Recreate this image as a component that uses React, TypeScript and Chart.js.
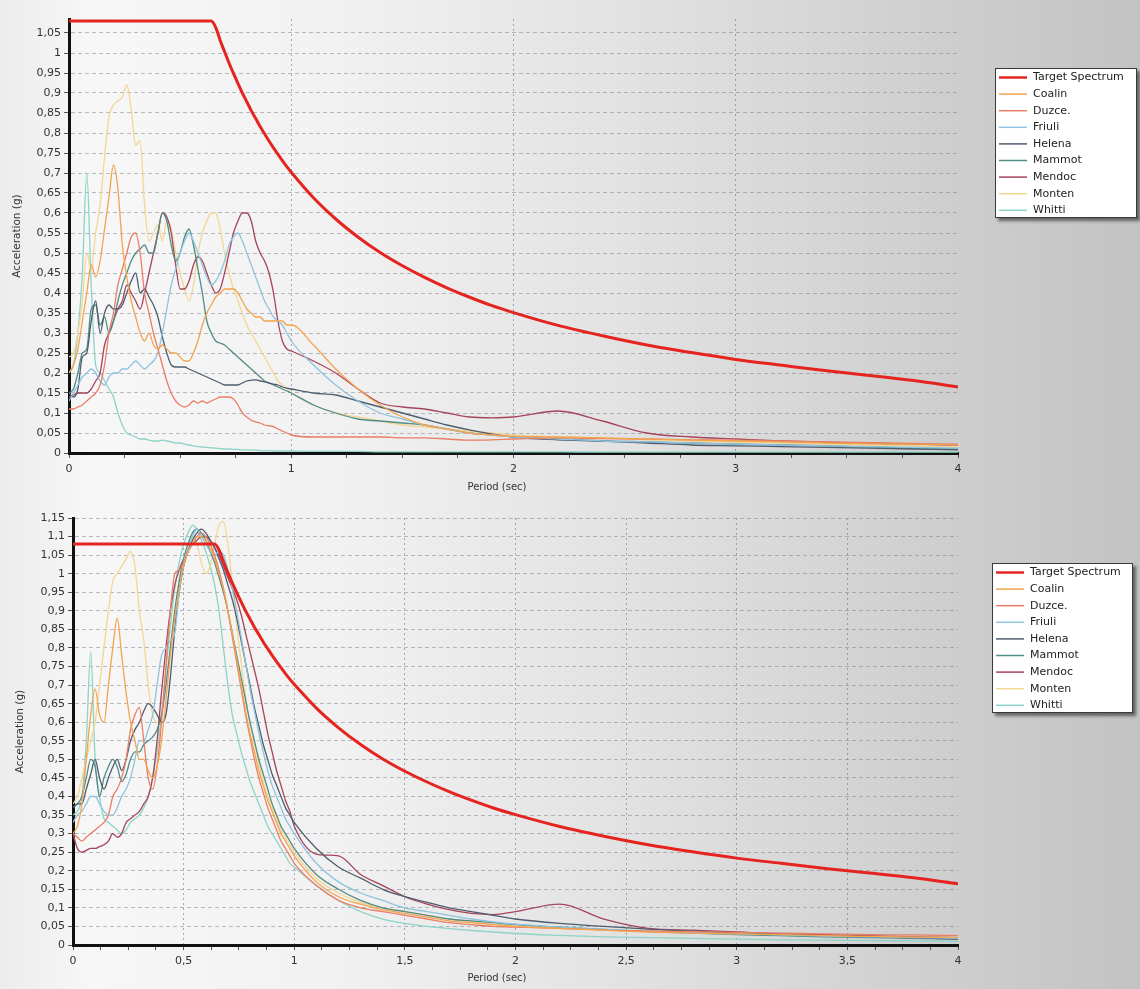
import React, { useEffect, useRef } from 'react';
import { Chart, registerables } from 'chart.js';

Chart.register(...registerables);

// ---- Data (period grid shared by both panels) ----
const periods = [
  0, 0.02, 0.04, 0.06, 0.08, 0.1, 0.12, 0.14, 0.16, 0.18,
  0.2, 0.22, 0.24, 0.26, 0.28, 0.3, 0.32, 0.34, 0.36, 0.38,
  0.4, 0.42, 0.44, 0.46, 0.48, 0.5, 0.52, 0.54, 0.56, 0.58,
  0.6, 0.62, 0.64, 0.66, 0.68, 0.7, 0.72, 0.74, 0.76, 0.78,
  0.8, 0.82, 0.84, 0.86, 0.88, 0.9, 0.92, 0.94, 0.96, 0.98,
  1.0, 1.1, 1.2, 1.3, 1.4, 1.5, 1.6, 1.7, 1.8, 1.9,
  2.0, 2.2, 2.4, 2.6, 2.8, 3.0, 3.2, 3.4, 3.6, 3.8,
  4.0,
];

const targetSpectrum = [
  1.08, 1.08, 1.08, 1.08, 1.08, 1.08, 1.08, 1.08, 1.08, 1.08,
  1.08, 1.08, 1.08, 1.08, 1.08, 1.08, 1.08, 1.08, 1.08, 1.08,
  1.08, 1.08, 1.08, 1.08, 1.08, 1.08, 1.08, 1.08, 1.08, 1.08,
  1.08, 1.08, 1.08, 1.064, 1.032, 1.003, 0.975, 0.949, 0.924, 0.9,
  0.878, 0.856, 0.836, 0.816, 0.798, 0.78, 0.763, 0.747, 0.731, 0.716,
  0.702, 0.638, 0.585, 0.54, 0.501, 0.468, 0.439, 0.413, 0.39, 0.369,
  0.351, 0.319, 0.293, 0.27, 0.251, 0.234, 0.22, 0.206, 0.194, 0.181,
  0.165,
];

const recordNames = ['Coalin', 'Duzce.', 'Friuli', 'Helena', 'Mammot', 'Mendoc', 'Monten', 'Whitti'];
const recordColors = ['#f2a44e', '#e97d66', '#8fc3e0', '#4e5c6e', '#4f8c86', '#a5445a', '#f3d693', '#8dd3c7'];
const targetColor = '#e52420';

// ---- Top panel: unscaled records ----
const topCoalin = [
  0.2, 0.22, 0.26, 0.33, 0.4, 0.47, 0.44, 0.48, 0.56, 0.64,
  0.72, 0.66, 0.52, 0.44, 0.38, 0.34, 0.3, 0.28, 0.3, 0.27,
  0.26, 0.27, 0.26, 0.25, 0.25, 0.24, 0.23, 0.23, 0.25, 0.28,
  0.32, 0.35, 0.37, 0.39, 0.4, 0.41, 0.41, 0.41, 0.4, 0.38,
  0.36, 0.35, 0.34, 0.34, 0.33, 0.33, 0.33, 0.33, 0.33, 0.32,
  0.32, 0.27, 0.21, 0.16, 0.12, 0.09, 0.07, 0.06, 0.05, 0.045,
  0.042, 0.04, 0.038, 0.035, 0.032, 0.03, 0.028, 0.025, 0.023, 0.022,
  0.02,
];
const topDuzce = [
  0.11, 0.11, 0.115, 0.12, 0.13, 0.14, 0.15, 0.17, 0.22, 0.3,
  0.35, 0.42, 0.46, 0.5, 0.54, 0.55, 0.5, 0.4, 0.35, 0.3,
  0.26, 0.22, 0.18, 0.15, 0.13, 0.12, 0.115, 0.12, 0.13, 0.125,
  0.13, 0.125, 0.13, 0.135, 0.14, 0.14, 0.14, 0.135, 0.12, 0.1,
  0.09, 0.082, 0.078, 0.075, 0.07, 0.068, 0.066, 0.06, 0.055, 0.05,
  0.045, 0.04, 0.04, 0.04, 0.04, 0.038, 0.038, 0.035, 0.032, 0.033,
  0.035, 0.038, 0.036, 0.035, 0.033, 0.032, 0.03, 0.028, 0.026, 0.024,
  0.022,
];
const topFriuli = [
  0.13, 0.15, 0.17, 0.19, 0.2, 0.21, 0.2, 0.18, 0.17, 0.19,
  0.2, 0.2, 0.21, 0.21, 0.22, 0.23, 0.22, 0.21, 0.22, 0.23,
  0.25, 0.3, 0.36, 0.42, 0.46, 0.5, 0.53, 0.55, 0.53, 0.5,
  0.47, 0.44, 0.42, 0.43, 0.45, 0.48, 0.52, 0.54, 0.55, 0.53,
  0.5, 0.47, 0.44, 0.41, 0.38, 0.36, 0.34, 0.33, 0.32, 0.3,
  0.28, 0.22, 0.17, 0.13, 0.1, 0.085, 0.07, 0.06, 0.05, 0.045,
  0.04, 0.035, 0.03, 0.028, 0.025, 0.022, 0.02, 0.018, 0.016, 0.014,
  0.012,
];
const topHelena = [
  0.15, 0.14, 0.16, 0.24, 0.25, 0.33, 0.38, 0.3, 0.35, 0.37,
  0.36, 0.36, 0.37, 0.4, 0.43, 0.45, 0.4, 0.41, 0.39, 0.37,
  0.34, 0.29, 0.25, 0.22, 0.215, 0.215, 0.215, 0.21, 0.205, 0.2,
  0.195, 0.19, 0.185, 0.18, 0.175, 0.17, 0.17, 0.17, 0.17, 0.175,
  0.18, 0.182, 0.183, 0.18, 0.178, 0.175, 0.172, 0.17, 0.165, 0.162,
  0.16, 0.15, 0.145, 0.13, 0.115, 0.1, 0.085, 0.07, 0.058, 0.048,
  0.04, 0.033, 0.03, 0.025, 0.02, 0.018, 0.016, 0.014, 0.012, 0.01,
  0.008,
];
const topMammot = [
  0.15, 0.16, 0.2, 0.25, 0.26, 0.36, 0.37, 0.32, 0.34, 0.3,
  0.33, 0.38, 0.42, 0.45, 0.48, 0.5, 0.51, 0.52, 0.5, 0.5,
  0.55, 0.6, 0.58, 0.52, 0.48, 0.5, 0.54, 0.56, 0.52, 0.46,
  0.4, 0.33, 0.3, 0.28, 0.275, 0.27, 0.26, 0.25, 0.24, 0.23,
  0.22, 0.21, 0.2, 0.19, 0.18, 0.175, 0.17, 0.165, 0.16, 0.155,
  0.15, 0.12, 0.1, 0.085, 0.08, 0.075, 0.07, 0.06, 0.05, 0.045,
  0.04, 0.035, 0.03, 0.028, 0.025, 0.022, 0.02, 0.018, 0.015, 0.012,
  0.01,
];
const topMendoc = [
  0.14, 0.145, 0.15, 0.15, 0.15, 0.16, 0.18, 0.2, 0.27, 0.3,
  0.33, 0.36, 0.38, 0.42, 0.4, 0.38, 0.36, 0.4, 0.45, 0.5,
  0.55, 0.6, 0.59, 0.55, 0.47, 0.41, 0.41, 0.43, 0.47, 0.49,
  0.48, 0.45, 0.42, 0.4, 0.41, 0.45, 0.5, 0.55, 0.58, 0.6,
  0.6, 0.58, 0.53, 0.5, 0.48, 0.45, 0.4, 0.33, 0.28, 0.26,
  0.255, 0.23, 0.2, 0.16, 0.125, 0.115, 0.11, 0.1, 0.09, 0.088,
  0.09, 0.105, 0.08, 0.05, 0.04, 0.035, 0.03, 0.027, 0.025, 0.022,
  0.02,
];
const topMonten = [
  0.24, 0.25, 0.3, 0.38, 0.5, 0.46, 0.55, 0.62, 0.74, 0.84,
  0.87, 0.88, 0.89, 0.92, 0.86, 0.77, 0.78, 0.62, 0.53, 0.55,
  0.57, 0.53, 0.58, 0.56, 0.5, 0.45, 0.41, 0.38, 0.42, 0.5,
  0.55, 0.58, 0.6, 0.6, 0.56, 0.5, 0.45, 0.41, 0.38, 0.35,
  0.32, 0.3, 0.28, 0.26, 0.24, 0.22, 0.2, 0.18, 0.17, 0.16,
  0.15, 0.12, 0.1, 0.09, 0.08, 0.07, 0.065, 0.06, 0.055, 0.05,
  0.045, 0.04, 0.037, 0.033, 0.03, 0.027, 0.025, 0.022, 0.02, 0.018,
  0.016,
];
const topWhitti = [
  0.2, 0.22, 0.3, 0.45, 0.7, 0.42, 0.22, 0.2, 0.18, 0.16,
  0.14, 0.1, 0.07, 0.05, 0.045, 0.04, 0.035, 0.035, 0.032, 0.03,
  0.03, 0.032, 0.03, 0.028, 0.025, 0.025, 0.022, 0.02, 0.018, 0.016,
  0.015, 0.014, 0.013, 0.012, 0.011, 0.01, 0.01, 0.009, 0.009, 0.008,
  0.008, 0.007, 0.007, 0.006, 0.006, 0.006, 0.005, 0.005, 0.005, 0.005,
  0.005, 0.004, 0.004, 0.004, 0.003, 0.003, 0.003, 0.003, 0.003, 0.003,
  0.003, 0.003, 0.002, 0.002, 0.002, 0.002, 0.002, 0.002, 0.002, 0.002,
  0.002,
];

// ---- Bottom panel: scaled records ----
const bottomCoalin = [
  0.3, 0.32, 0.38, 0.5, 0.62, 0.69, 0.62, 0.6, 0.7, 0.8,
  0.88, 0.78, 0.68, 0.6, 0.55, 0.5, 0.5, 0.47, 0.45, 0.48,
  0.55, 0.66, 0.78, 0.88, 0.96, 1.02, 1.06, 1.08, 1.1, 1.1,
  1.09, 1.07, 1.04, 1.0, 0.96, 0.9, 0.84, 0.77, 0.7, 0.63,
  0.57, 0.52, 0.47, 0.43, 0.39, 0.36, 0.33, 0.3, 0.28, 0.26,
  0.24, 0.17, 0.13, 0.11, 0.095, 0.085, 0.075, 0.065, 0.06, 0.055,
  0.05, 0.045, 0.04, 0.035, 0.032, 0.03, 0.028, 0.025, 0.023, 0.021,
  0.02,
];
const bottomDuzce = [
  0.3, 0.29, 0.28, 0.29, 0.3, 0.31, 0.32, 0.33, 0.35, 0.4,
  0.42, 0.45, 0.5, 0.58, 0.62, 0.64, 0.55, 0.45, 0.42, 0.48,
  0.6, 0.75, 0.9, 1.0, 1.01, 1.03, 1.06, 1.08, 1.1, 1.11,
  1.1, 1.08, 1.05, 1.01, 0.96, 0.9, 0.83, 0.76, 0.69, 0.62,
  0.56, 0.5, 0.45, 0.41, 0.37, 0.34, 0.31, 0.28, 0.26, 0.24,
  0.22, 0.16, 0.12, 0.1, 0.09, 0.08, 0.07, 0.06, 0.055, 0.05,
  0.048, 0.045, 0.04, 0.038, 0.036, 0.034, 0.032, 0.03, 0.028, 0.027,
  0.025,
];
const bottomFriuli = [
  0.33, 0.35, 0.36, 0.38, 0.4, 0.4, 0.38, 0.36, 0.35, 0.35,
  0.37, 0.4, 0.42, 0.45, 0.5, 0.55, 0.55, 0.58, 0.62, 0.7,
  0.78, 0.8, 0.82, 0.84, 0.95, 1.03, 1.07, 1.1, 1.12, 1.1,
  1.08, 1.06, 1.05, 1.06, 1.05, 1.01, 0.96, 0.9, 0.83, 0.76,
  0.69, 0.63, 0.57, 0.52, 0.47, 0.43, 0.4, 0.37, 0.34, 0.32,
  0.3, 0.22, 0.17, 0.14, 0.12, 0.1, 0.09, 0.08, 0.07, 0.062,
  0.056, 0.048, 0.042, 0.037, 0.033, 0.03, 0.027, 0.024, 0.022, 0.02,
  0.018,
];
const bottomHelena = [
  0.37, 0.38, 0.38, 0.42, 0.46, 0.5, 0.45, 0.42, 0.45, 0.48,
  0.5, 0.47, 0.5, 0.55, 0.58, 0.6, 0.63, 0.65, 0.64, 0.62,
  0.6, 0.62, 0.72, 0.85, 0.95, 1.02, 1.06, 1.09, 1.11, 1.12,
  1.11, 1.09, 1.07, 1.04, 1.01, 0.97, 0.93, 0.88, 0.82, 0.76,
  0.7, 0.64, 0.59, 0.54, 0.5, 0.46, 0.43, 0.4, 0.37, 0.35,
  0.33, 0.26, 0.21, 0.18, 0.15, 0.13, 0.115, 0.1, 0.09, 0.08,
  0.07, 0.058, 0.05, 0.043, 0.037, 0.033, 0.029, 0.025, 0.022, 0.019,
  0.016,
];
const bottomMammot = [
  0.37, 0.38, 0.4, 0.45, 0.5, 0.48, 0.4, 0.45, 0.48, 0.5,
  0.48, 0.44, 0.46, 0.5, 0.52, 0.52, 0.54, 0.55, 0.56, 0.58,
  0.62, 0.7, 0.8, 0.9, 0.98, 1.04, 1.08, 1.11, 1.12, 1.11,
  1.09, 1.06, 1.03, 0.99, 0.95, 0.9, 0.84, 0.78, 0.72, 0.66,
  0.6, 0.55, 0.5, 0.46, 0.42, 0.38, 0.35, 0.32, 0.3, 0.28,
  0.26, 0.19, 0.15, 0.12, 0.1, 0.09, 0.08, 0.07, 0.065, 0.06,
  0.055, 0.048, 0.042, 0.036, 0.032, 0.028, 0.025, 0.022, 0.02, 0.018,
  0.016,
];
const bottomMendoc = [
  0.3, 0.26, 0.25, 0.255, 0.26, 0.26, 0.265, 0.27, 0.28, 0.3,
  0.29, 0.3, 0.33, 0.34, 0.35, 0.36, 0.38, 0.4, 0.45, 0.55,
  0.68, 0.8, 0.9, 0.97, 1.01, 1.04, 1.06, 1.08, 1.09, 1.1,
  1.1, 1.09, 1.07, 1.05, 1.02, 0.99, 0.96, 0.93, 0.89, 0.84,
  0.79, 0.74, 0.69, 0.63, 0.57, 0.52, 0.47, 0.43, 0.39, 0.36,
  0.32, 0.245, 0.24, 0.19, 0.16, 0.13, 0.11, 0.095, 0.085, 0.082,
  0.09, 0.11, 0.07, 0.045, 0.04, 0.035, 0.03, 0.028, 0.025, 0.022,
  0.02,
];
const bottomMonten = [
  0.38, 0.4, 0.45, 0.5, 0.55, 0.6, 0.7, 0.8, 0.9, 0.98,
  1.0, 1.02, 1.04, 1.06, 1.02, 0.9, 0.82, 0.7, 0.62, 0.6,
  0.62, 0.7, 0.8, 0.9, 0.98, 1.04, 1.08, 1.1, 1.08, 1.03,
  1.0, 1.02, 1.08, 1.13, 1.14, 1.08, 0.97, 0.86, 0.76, 0.67,
  0.6, 0.54, 0.49, 0.44, 0.4, 0.37, 0.34, 0.31, 0.29, 0.27,
  0.25, 0.18, 0.14, 0.115, 0.1, 0.09, 0.08, 0.07, 0.062, 0.056,
  0.05, 0.044, 0.04, 0.036, 0.033, 0.03, 0.027, 0.025, 0.022, 0.02,
  0.018,
];
const bottomWhitti = [
  0.35, 0.36, 0.4, 0.55, 0.79, 0.5, 0.4, 0.34, 0.33, 0.32,
  0.31, 0.3, 0.31, 0.33, 0.34, 0.35, 0.37, 0.4, 0.45, 0.52,
  0.62, 0.74, 0.86, 0.96, 1.03, 1.08, 1.11, 1.13, 1.12, 1.09,
  1.06, 1.02, 0.97, 0.9, 0.8, 0.7, 0.62, 0.57, 0.52, 0.48,
  0.44, 0.41, 0.38, 0.35, 0.32, 0.3, 0.28, 0.26, 0.24, 0.22,
  0.21, 0.16, 0.12, 0.09, 0.07, 0.058, 0.05, 0.044, 0.039, 0.035,
  0.031, 0.026, 0.022, 0.02, 0.018, 0.016, 0.014, 0.013, 0.012, 0.011,
  0.01,
];

const topRecords = [topCoalin, topDuzce, topFriuli, topHelena, topMammot, topMendoc, topMonten, topWhitti];
const bottomRecords = [bottomCoalin, bottomDuzce, bottomFriuli, bottomHelena, bottomMammot, bottomMendoc, bottomMonten, bottomWhitti];

const FONT = '"DejaVu Sans", "Liberation Sans", sans-serif';
const GRADIENT =
  'linear-gradient(to right, #ececec 0%, #f7f7f7 8%, #f1f1f1 30%, #e2e2e2 55%, #d0d0d0 80%, #c3c3c3 100%)';

interface PanelSpec {
  top: number;
  height: number;
  records: number[][];
  yMax: number;
  xMinorStep: number;
  xMajorStep: number;
  padTop: number;
  yAxisWidth: number;
  xAxisHeight: number;
  yTitleX: number;
  xTitleX: number;
  xTitleY: number;
  legendX: number;
  legendY: number;
  legendW: number;
  legendH: number;
}

const fmt = (v: number) => String(Math.round(v * 1000) / 1000).replace('.', ',');
const isMultiple = (v: number, step: number) => Math.abs(v / step - Math.round(v / step)) < 1e-6;

function decorPlugin(spec: PanelSpec) {
  return {
    id: 'panelDecor',
    afterDraw(chart: any) {
      const { ctx, chartArea } = chart;
      ctx.save();
      // axis titles
      ctx.fillStyle = '#333';
      ctx.textAlign = 'center';
      ctx.textBaseline = 'middle';
      ctx.font = `10px ${FONT}`;
      ctx.fillText('Period (sec)', spec.xTitleX, spec.xTitleY);
      ctx.save();
      ctx.translate(spec.yTitleX, (chartArea.top + chartArea.bottom) / 2);
      ctx.rotate(-Math.PI / 2);
      ctx.font = `10.5px ${FONT}`;
      ctx.fillText('Acceleration (g)', 0, 0);
      ctx.restore();

      // legend box
      const x = spec.legendX;
      const y = spec.legendY;
      ctx.save();
      ctx.shadowColor = 'rgba(0,0,0,0.5)';
      ctx.shadowOffsetX = 3;
      ctx.shadowOffsetY = 3;
      ctx.shadowBlur = 3;
      ctx.fillStyle = '#ffffff';
      ctx.fillRect(x, y, spec.legendW, spec.legendH);
      ctx.restore();
      ctx.strokeStyle = '#3a3a3a';
      ctx.lineWidth = 1;
      ctx.strokeRect(x + 0.5, y + 0.5, spec.legendW - 1, spec.legendH - 1);
      ctx.textAlign = 'left';
      ctx.font = `11px ${FONT}`;
      chart.data.datasets.forEach((ds: any, i: number) => {
        const cy = y + 9.5 + i * 16.6;
        ctx.strokeStyle = ds.borderColor;
        ctx.lineWidth = i === 0 ? 2.5 : 1.5;
        ctx.beginPath();
        ctx.moveTo(x + 4, cy);
        ctx.lineTo(x + 32, cy);
        ctx.stroke();
        ctx.fillStyle = '#222';
        ctx.fillText(ds.label, x + 38, cy);
      });
      ctx.restore();
    },
  };
}

function buildConfig(spec: PanelSpec): any {
  const toPoints = (arr: number[]) => periods.map((p, i) => ({ x: p, y: arr[i] }));
  const datasets = [
    {
      label: 'Target Spectrum',
      data: toPoints(targetSpectrum),
      borderColor: targetColor,
      borderWidth: 3,
    },
    ...spec.records.map((arr, i) => ({
      label: recordNames[i],
      data: toPoints(arr),
      borderColor: recordColors[i],
      borderWidth: 1.3,
    })),
  ].map((d) => ({ ...d, pointRadius: 0, fill: false, cubicInterpolationMode: 'monotone' }));

  return {
    type: 'line',
    data: { datasets },
    options: {
      responsive: false,
      animation: false,
      devicePixelRatio: 1,
      events: [],
      layout: { padding: { top: spec.padTop, right: 182, left: 0, bottom: 0 } },
      plugins: { legend: { display: false }, tooltip: { enabled: false } },
      scales: {
        x: {
          type: 'linear',
          min: 0,
          max: 4,
          afterFit: (s: any) => {
            s.height = spec.xAxisHeight;
          },
          ticks: {
            stepSize: spec.xMinorStep,
            autoSkip: false,
            maxRotation: 0,
            padding: 5,
            color: '#333',
            font: { family: FONT, size: 11 },
            callback: (v: number) => (isMultiple(v, spec.xMajorStep) ? fmt(v) : ''),
          },
          grid: {
            color: (c: any) => {
              const v = c.tick ? c.tick.value : 0;
              return isMultiple(v, spec.xMajorStep) && v > 0 && v < 4 ? 'rgba(110,118,128,0.6)' : 'rgba(0,0,0,0)';
            },
            tickColor: '#555',
            tickLength: 5,
            lineWidth: 1,
          },
          border: { display: true, color: '#111', width: 3, dash: [2, 3] },
          title: { display: false },
        },
        y: {
          type: 'linear',
          min: 0,
          max: spec.yMax,
          afterFit: (s: any) => {
            s.width = spec.yAxisWidth;
          },
          ticks: {
            stepSize: 0.05,
            includeBounds: false,
            autoSkip: false,
            padding: 3,
            color: '#333',
            font: { family: FONT, size: 11 },
            callback: (v: number) => fmt(v),
          },
          grid: {
            color: (c: any) => (c.tick && c.tick.value > 0 ? 'rgba(120,128,138,0.5)' : 'rgba(0,0,0,0)'),
            tickColor: '#555',
            tickLength: 5,
            lineWidth: 1,
          },
          border: { display: true, color: '#111', width: 3, dash: [4, 3] },
          title: { display: false },
        },
      },
    },
    plugins: [decorPlugin(spec)],
  };
}

function Panel({ spec }: { spec: PanelSpec }) {
  const ref = useRef<HTMLCanvasElement>(null);
  useEffect(() => {
    const chart = new Chart(ref.current as HTMLCanvasElement, buildConfig(spec));
    return () => chart.destroy();
  }, [spec]);
  return (
    <div
      style={{
        position: 'absolute',
        left: 0,
        top: spec.top,
        width: 1140,
        height: spec.height,
        background: GRADIENT,
      }}
    >
      <canvas ref={ref} width={1140} height={spec.height} style={{ display: 'block' }} />
    </div>
  );
}

const topSpec: PanelSpec = {
  top: 0,
  height: 495,
  records: topRecords,
  yMax: 1.085,
  xMinorStep: 0.25,
  xMajorStep: 1,
  padTop: 19,
  yAxisWidth: 69,
  xAxisHeight: 42,
  yTitleX: 17.5,
  xTitleX: 497,
  xTitleY: 487,
  legendX: 995,
  legendY: 68,
  legendW: 142,
  legendH: 150,
};

const bottomSpec: PanelSpec = {
  top: 495,
  height: 494,
  records: bottomRecords,
  yMax: 1.15,
  xMinorStep: 0.125,
  xMajorStep: 0.5,
  padTop: 23,
  yAxisWidth: 73,
  xAxisHeight: 44,
  yTitleX: 20,
  xTitleX: 497,
  xTitleY: 483,
  legendX: 992,
  legendY: 68,
  legendW: 141,
  legendH: 150,
};

export default function App() {
  return (
    <div style={{ position: 'absolute', left: 0, top: 0, width: 1140, height: 989, overflow: 'hidden' }}>
      <Panel spec={topSpec} />
      <Panel spec={bottomSpec} />
    </div>
  );
}
